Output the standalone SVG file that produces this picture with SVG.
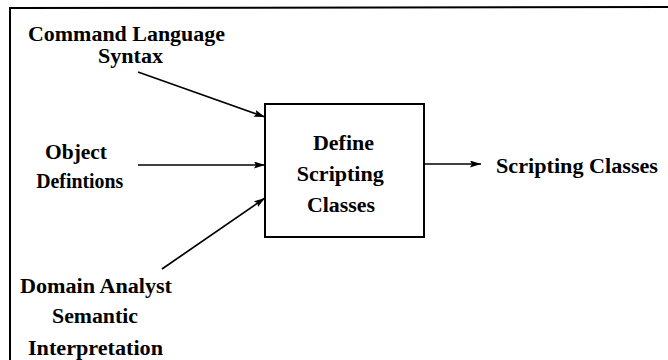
<svg xmlns="http://www.w3.org/2000/svg" width="668" height="360" viewBox="0 0 668 360">
<style>
text{font-family:"Liberation Serif","Times New Roman",serif;font-weight:bold;font-size:20px;fill:#000;text-anchor:middle}
.ln{stroke:#000;stroke-width:1.7;fill:none}
</style>
<defs>
<marker id="ah" viewBox="0 0 11 7" refX="11" refY="3.5" markerWidth="11" markerHeight="7" markerUnits="userSpaceOnUse" orient="auto">
<path d="M0,0 L11,3.5 L0,7 L2,3.5 Z" fill="#000"/>
</marker>
</defs>
<rect width="668" height="360" fill="#fff"/>
<path d="M10,362 L10,8 L668,7" fill="none" stroke="#000" stroke-width="2"/>
<g id="cmd">
<text x="126.5" y="41" textLength="197" lengthAdjust="spacingAndGlyphs">Command Language</text>
<text x="130.5" y="63" textLength="65" lengthAdjust="spacingAndGlyphs">Syntax</text>
</g>
<g id="obj">
<text x="76" y="158.5" textLength="62" lengthAdjust="spacingAndGlyphs">Object</text>
<text x="79.7" y="188.3" textLength="87" lengthAdjust="spacingAndGlyphs">Defintions</text>
</g>
<g id="dom">
<text x="96" y="293" textLength="152" lengthAdjust="spacingAndGlyphs">Domain Analyst</text>
<text x="95" y="323" textLength="86" lengthAdjust="spacingAndGlyphs">Semantic</text>
<text x="95.5" y="355" textLength="135" lengthAdjust="spacingAndGlyphs">Interpretation</text>
</g>
<g id="define">
<rect x="265" y="104" width="159" height="133" fill="#fff" stroke="#000" stroke-width="2"/>
<text x="343.5" y="150" textLength="61" lengthAdjust="spacingAndGlyphs">Define</text>
<text x="340.3" y="181" textLength="87" lengthAdjust="spacingAndGlyphs">Scripting</text>
<text x="341" y="212" textLength="68" lengthAdjust="spacingAndGlyphs">Classes</text>
</g>
<g id="out">
<text x="577" y="173" textLength="162" lengthAdjust="spacingAndGlyphs">Scripting Classes</text>
</g>
<g id="connectors">
<line class="ln" x1="138" y1="72" x2="265" y2="117" marker-end="url(#ah)"/>
<line class="ln" x1="138" y1="165" x2="265" y2="165" marker-end="url(#ah)"/>
<line class="ln" x1="162" y1="269" x2="265" y2="198" marker-end="url(#ah)"/>
<line class="ln" x1="424" y1="164" x2="481" y2="164" marker-end="url(#ah)"/>
</g>
</svg>
